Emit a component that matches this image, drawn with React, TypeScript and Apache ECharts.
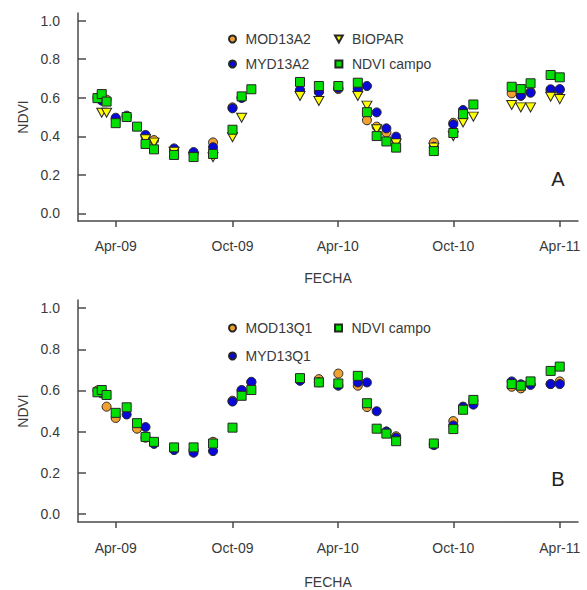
import React, { useEffect, useRef } from "react";
import * as echarts from "echarts";

// Dates: days since 1 Jan 2009 (composite dates)
const fechas = [60, 67, 75, 90, 108, 125, 139, 153, 186, 218, 250, 282, 297, 313, 393, 424, 456, 488, 503, 519, 535, 551, 613, 645, 661, 678, 741, 756, 772, 805, 820];

// Axis ticks (days since 1 Jan 2009) and their labels
const tickDays = [90, 282, 455, 645, 820];
const tickLabels = ["Apr-09", "Oct-09", "Apr-10", "Oct-10", "Apr-11"];
const yTicks = [0, 0.2, 0.4, 0.6, 0.8, 1.0];

// Panel A
const mod13A2 = [0.60, null, 0.59, 0.49, 0.50, null, 0.40, 0.38, 0.33, 0.31, 0.368, 0.55, 0.60, null, 0.635, 0.63, 0.645, 0.64, 0.483, 0.45, 0.419, 0.38, 0.368, 0.47, 0.53, null, 0.623, 0.61, 0.63, 0.64, 0.64];
const myd13A2 = [null, 0.585, null, 0.496, 0.507, null, 0.407, null, 0.337, 0.318, 0.343, 0.545, 0.60, null, 0.640, 0.631, 0.65, 0.649, 0.661, 0.524, 0.441, 0.398, 0.345, 0.462, 0.536, null, null, 0.611, 0.626, 0.644, 0.645];
const biopar = [null, 0.522, 0.522, null, null, null, 0.384, 0.367, 0.32, 0.294, 0.291, 0.395, 0.496, null, 0.609, 0.583, null, 0.609, 0.559, 0.436, null, 0.363, 0.341, 0.401, 0.472, 0.502, 0.562, 0.55, 0.55, 0.605, 0.593];
const campoA = [0.598, 0.619, 0.58, 0.468, 0.50, 0.45, 0.36, 0.332, 0.303, 0.292, 0.308, 0.434, 0.607, 0.644, 0.682, 0.661, 0.661, 0.678, 0.525, 0.401, 0.373, 0.341, 0.323, 0.417, 0.515, 0.565, 0.657, 0.645, 0.675, 0.718, 0.706];

// Panel B
const mod13Q1 = [0.60, null, 0.521, 0.466, null, 0.414, 0.37, 0.345, 0.32, 0.31, 0.35, 0.55, 0.60, 0.64, 0.655, 0.655, 0.682, 0.623, 0.519, null, 0.40, 0.377, 0.34, 0.451, 0.521, 0.55, 0.618, 0.61, 0.63, 0.631, 0.644];
const myd13Q1 = [null, 0.586, null, null, 0.483, null, 0.422, 0.34, 0.31, 0.297, 0.305, 0.546, 0.602, 0.642, 0.647, 0.64, 0.623, 0.639, 0.639, 0.499, 0.40, 0.37, 0.334, 0.43, 0.52, 0.531, 0.644, 0.63, 0.627, 0.631, 0.631];
const campoB = [0.591, 0.602, 0.578, 0.491, 0.518, 0.441, 0.374, 0.35, 0.323, 0.323, 0.342, 0.419, 0.574, 0.602, 0.66, 0.639, 0.634, 0.671, 0.538, 0.414, 0.39, 0.353, 0.342, 0.412, 0.506, 0.554, 0.631, 0.623, 0.644, 0.695, 0.716];

const FONT = "'Liberation Sans', Arial, sans-serif";
const TEXT = "#3a3a3a";
const AXIS = "#4a4a4a";
const ORANGE = "#f0a030";
const BLUE = "#0808d8";
const YELLOW = "#ffff00";
const GREEN = "#00e000";
const TRI = "path://M0,0 L10,0 L5,9 Z";
const SQ = "path://M0,0 L10,0 L10,10 L0,10 Z";

function pairs(vals: (number | null)[]) {
  const out: number[][] = [];
  vals.forEach((v, i) => {
    if (v !== null) out.push([fechas[i], v]);
  });
  return out;
}

function xAxisFor(gridIndex: number, nameGap: number, margin: number) {
  return {
    type: "value",
    gridIndex,
    min: 28,
    max: 850,
    name: "FECHA",
    nameLocation: "middle",
    nameGap,
    nameTextStyle: { fontFamily: FONT, fontSize: 14, color: TEXT },
    splitLine: { show: false },
    axisLine: { onZero: false, lineStyle: { color: AXIS, width: 1.5 } },
    axisTick: { show: true, inside: false, length: 6, customValues: tickDays, lineStyle: { color: AXIS, width: 1.5 } },
    axisLabel: {
      customValues: tickDays,
      margin,
      fontFamily: FONT,
      fontSize: 14,
      color: TEXT,
      formatter: (v: number) => {
        const i = tickDays.indexOf(v);
        return i >= 0 ? tickLabels[i] : "";
      },
    },
  };
}

function yAxisFor(gridIndex: number) {
  return {
    type: "value",
    gridIndex,
    min: -0.04,
    max: 1.04,
    name: "NDVI",
    nameLocation: "middle",
    nameGap: 46,
    nameTextStyle: { fontFamily: FONT, fontSize: 14, color: TEXT },
    splitLine: { show: false },
    axisLine: { show: true, onZero: false, lineStyle: { color: AXIS, width: 1.5 } },
    axisTick: { show: true, inside: true, length: 8, customValues: yTicks, lineStyle: { color: AXIS, width: 1.5 } },
    axisLabel: {
      customValues: yTicks,
      margin: 18,
      fontFamily: FONT,
      fontSize: 14,
      color: TEXT,
      formatter: (v: number) => v.toFixed(1),
    },
  };
}

function scatter(name: string, vals: (number | null)[], idx: number, symbol: string, size: any, color: string) {
  return {
    type: "scatter",
    name,
    xAxisIndex: idx,
    yAxisIndex: idx,
    symbol,
    symbolSize: size,
    itemStyle: { color, borderColor: "#262626", borderWidth: 1, opacity: 1 },
    data: pairs(vals),
  };
}

function legendFor(data: string[], left: number, top: number, gap: number) {
  return {
    data,
    orient: "vertical",
    left,
    top,
    itemWidth: 16,
    itemHeight: 7,
    itemGap: gap,
    selectedMode: false,
    symbolKeepAspect: true,
    textStyle: { fontFamily: FONT, fontSize: 14, color: TEXT, lineHeight: 16 },
  };
}

export default function App() {
  const ref = useRef<HTMLDivElement>(null);
  useEffect(() => {
    if (!ref.current) return;
    const chart = echarts.init(ref.current, undefined, { renderer: "svg" });
    chart.setOption({
      animation: false,
      backgroundColor: "#ffffff",
      grid: [
        { left: 78, top: 13, width: 500, height: 208 },
        { left: 78, top: 300, width: 500, height: 224 },
      ],
      xAxis: [xAxisFor(0, 50, 18), xAxisFor(1, 53, 19)],
      yAxis: [yAxisFor(0), yAxisFor(1)],
      legend: [
        legendFor(["MOD13A2", "MYD13A2"], 223, 26, 9),
        legendFor(["BIOPAR", "NDVI campo"], 329, 26, 9),
        legendFor(["MOD13Q1", "MYD13Q1"], 223, 315, 12),
        legendFor(["NDVI campo"], 329, 315, 12),
      ],
      graphic: [
        { type: "text", x: 558, y: 179, style: { text: "A", font: `20px ${FONT}`, fill: "#222", textAlign: "center", textVerticalAlign: "middle" } },
        { type: "text", x: 558, y: 479, style: { text: "B", font: `20px ${FONT}`, fill: "#222", textAlign: "center", textVerticalAlign: "middle" } },
      ],
      series: [
        scatter("MOD13A2", mod13A2, 0, "circle", 9, ORANGE),
        scatter("MYD13A2", myd13A2, 0, "circle", 9, BLUE),
        scatter("BIOPAR", biopar, 0, TRI, [10, 9], YELLOW),
        scatter("NDVI campo", campoA, 0, SQ, 9, GREEN),
        scatter("MOD13Q1", mod13Q1, 1, "circle", 9, ORANGE),
        scatter("MYD13Q1", myd13Q1, 1, "circle", 9, BLUE),
        scatter("NDVI campo", campoB, 1, SQ, 9, GREEN),
      ],
    });
    return () => chart.dispose();
  }, []);
  return <div ref={ref} style={{ position: "fixed", left: 0, top: 0, width: 587, height: 590, background: "#fff" }} />;
}
